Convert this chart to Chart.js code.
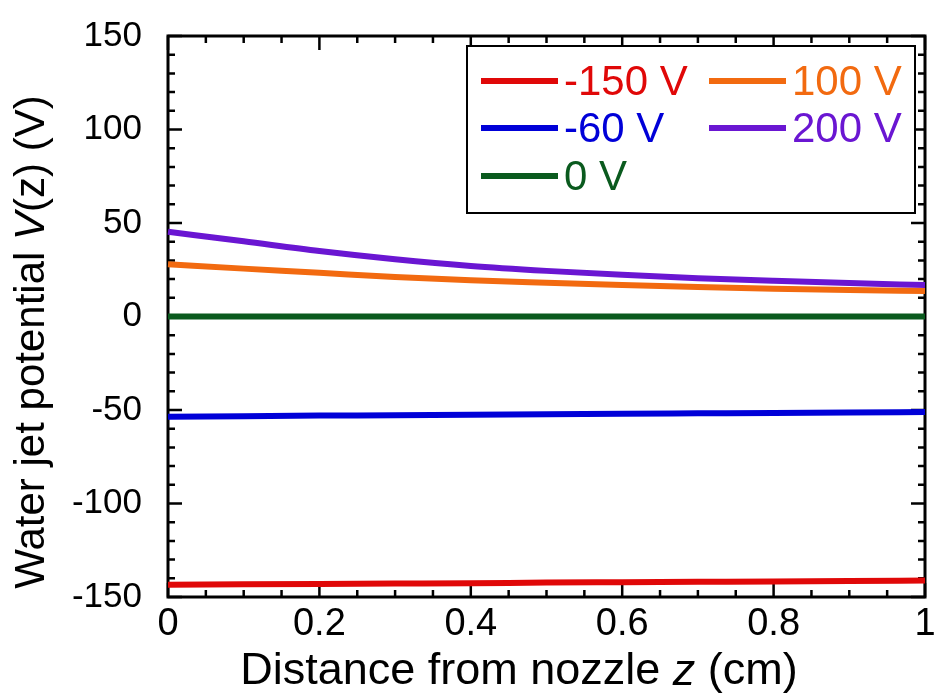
<!DOCTYPE html>
<html>
<head>
<meta charset="utf-8">
<script src="https://cdn.jsdelivr.net/npm/chart.js@4.4.1/dist/chart.umd.min.js"></script>
<style>html,body{margin:0;padding:0;background:#fff}</style>
</head>
<body>
<canvas id="myChart" width="934" height="698"></canvas>
<script>
// distance from nozzle (cm)
const zValues = [0, 0.1, 0.2, 0.3, 0.4, 0.5, 0.6, 0.7, 0.8, 0.9, 1.0];
// water jet potential (V) for each applied voltage
const vMinus150 = [-143.4, -143.2, -143.0, -142.8, -142.6, -142.3, -142.1, -141.9, -141.7, -141.4, -141.2];
const vMinus60 = [-53.6, -53.3, -53.0, -52.8, -52.5, -52.3, -52.0, -51.8, -51.6, -51.3, -51.1];
const v0 = [0, 0, 0, 0, 0, 0, 0, 0, 0, 0, 0];
const v100 = [27.9, 25.6, 23.4, 21.1, 19.4, 18.1, 16.9, 15.8, 14.9, 14.2, 13.6];
const v200 = [45.3, 40.2, 35.0, 30.6, 27.0, 24.4, 22.3, 20.5, 19.1, 17.9, 16.8];

const seriesLabels = ["-150 V", "-60 V", "0 V", "100 V", "200 V"];
const seriesValues = [vMinus150, vMinus60, v0, v100, v200];
const seriesColors = ["#e00808", "#0000d8", "#0a5a1e", "#f26a10", "#6a16d2"];

const yTicks = [-150, -100, -50, 0, 50, 100, 150];
const xTicks = [0, 0.2, 0.4, 0.6, 0.8, 1];

// axis titles, pieces marked true are italic
const xTitle = [["Distance from nozzle ", false], ["z", true], [" (cm)", false]];
const yTitle = [["Water jet potential ", false], ["V", true], ["(z) (V)", false]];

const FONT = "'Liberation Sans', Arial, sans-serif";
Chart.defaults.font.family = FONT;
Chart.defaults.color = "#000";

// frame with inward ticks on all four sides
const framePlugin = {
  id: "frame",
  beforeDatasetsDraw(chart) {
    const ctx = chart.ctx, a = chart.chartArea;
    const xs = chart.scales.x, ys = chart.scales.y;
    ctx.save();
    ctx.strokeStyle = "#000";
    ctx.lineWidth = 3;
    ctx.strokeRect(a.left, a.top, a.right - a.left, a.bottom - a.top);
    ctx.lineWidth = 2.5;
    ctx.beginPath();
    for (let v = 0; v <= 1.0001; v += 0.05) {
      const px = xs.getPixelForValue(v);
      const major = Math.abs(v / 0.2 - Math.round(v / 0.2)) < 1e-6;
      const len = major ? 14 : 7;
      ctx.moveTo(px, a.bottom); ctx.lineTo(px, a.bottom - len);
      ctx.moveTo(px, a.top); ctx.lineTo(px, a.top + len);
    }
    for (let v = -150; v <= 150; v += 10) {
      const py = ys.getPixelForValue(v);
      const len = (v % 50 === 0) ? 14 : 7;
      ctx.moveTo(a.left, py); ctx.lineTo(a.left + len, py);
      ctx.moveTo(a.right, py); ctx.lineTo(a.right - len, py);
    }
    ctx.stroke();
    ctx.restore();
  }
};

function drawMixed(ctx, parts, cx, cy, size, angle) {
  ctx.save();
  ctx.translate(cx, cy);
  ctx.rotate(angle);
  ctx.textBaseline = "middle";
  ctx.fillStyle = "#000";
  let total = 0;
  parts.forEach(p => {
    ctx.font = (p[1] ? "italic " : "") + size + "px " + FONT;
    total += ctx.measureText(p[0]).width;
  });
  let x = -total / 2;
  parts.forEach(p => {
    ctx.font = (p[1] ? "italic " : "") + size + "px " + FONT;
    ctx.fillText(p[0], x, 0);
    x += ctx.measureText(p[0]).width;
  });
  ctx.restore();
}

// boxed two-column legend inside the plot, plus the axis titles
const legendPlugin = {
  id: "boxLegend",
  afterDraw(chart) {
    const ctx = chart.ctx;
    drawMixed(ctx, xTitle, 519, 672, 45, 0);
    drawMixed(ctx, yTitle, 32, 342, 42, -Math.PI / 2);

    const bx = 467, by = 46, bw = 448, bh = 167;
    ctx.save();
    ctx.fillStyle = "#fff";
    ctx.fillRect(bx, by, bw, bh);
    ctx.strokeStyle = "#000";
    ctx.lineWidth = 2;
    ctx.strokeRect(bx, by, bw, bh);
    ctx.font = "42px " + FONT;
    ctx.textBaseline = "middle";
    const cols = [481, 709];
    const rows = [81, 128, 176];
    chart.data.datasets.forEach((ds, i) => {
      const col = i < 3 ? 0 : 1;
      const row = i < 3 ? i : i - 3;
      const x = cols[col], y = rows[row];
      ctx.strokeStyle = ds.borderColor;
      ctx.lineWidth = 6;
      ctx.beginPath();
      ctx.moveTo(x, y); ctx.lineTo(x + 77, y);
      ctx.stroke();
      ctx.fillStyle = ds.borderColor;
      ctx.fillText(ds.label, x + 83, y + 2);
    });
    ctx.restore();
  }
};

const datasets = seriesValues.map((vals, i) => ({
  label: seriesLabels[i],
  data: zValues.map((z, j) => ({ x: z, y: vals[j] })),
  borderColor: seriesColors[i],
  backgroundColor: seriesColors[i],
  borderWidth: 6,
  pointRadius: 0,
  cubicInterpolationMode: "monotone",
  clip: false
}));

new Chart("myChart", {
  type: "line",
  data: { datasets: datasets },
  options: {
    responsive: false,
    animation: false,
    layout: { padding: { top: 36, right: 9, left: 0, bottom: 0 } },
    plugins: { legend: { display: false }, tooltip: { enabled: false } },
    scales: {
      x: {
        type: "linear",
        min: 0, max: 1,
        afterBuildTicks(scale) { scale.ticks = xTicks.map(v => ({ value: v })); },
        afterFit(scale) { scale.height = 101; scale.paddingLeft = 0; scale.paddingRight = 0; },
        grid: { display: false, drawTicks: false },
        border: { display: false },
        ticks: { font: { size: 38 }, padding: 5, maxRotation: 0, autoSkip: false, callback: v => String(v) }
      },
      y: {
        min: -150, max: 150,
        afterBuildTicks(scale) { scale.ticks = yTicks.map(v => ({ value: v })); },
        afterFit(scale) { scale.width = 168; scale.paddingTop = 0; scale.paddingBottom = 0; },
        grid: { display: false, drawTicks: false },
        border: { display: false },
        ticks: { font: { size: 35 }, padding: 26, autoSkip: false }
      }
    }
  },
  plugins: [framePlugin, legendPlugin]
});
</script>
</body>
</html>
